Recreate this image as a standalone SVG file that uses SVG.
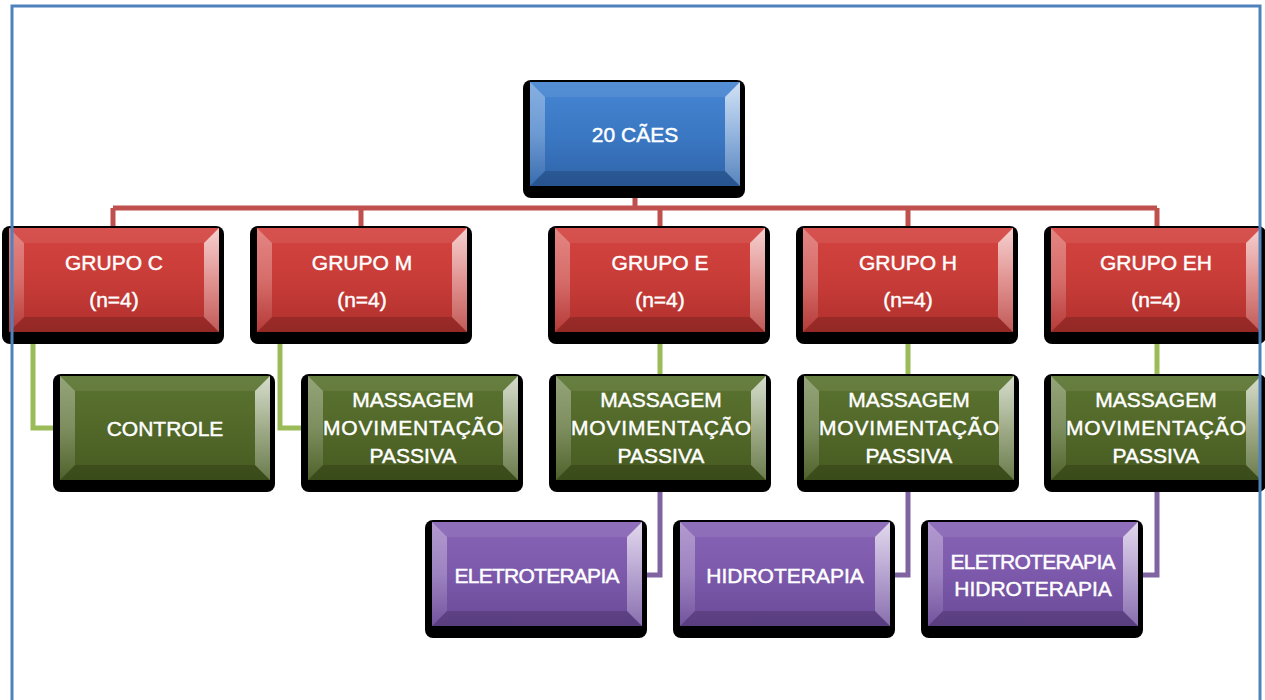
<svg xmlns="http://www.w3.org/2000/svg" width="1265" height="700" viewBox="0 0 1265 700">
<defs>
<linearGradient id="gBlue" x1="0" y1="0" x2="0" y2="1"><stop offset="0" stop-color="#4686d2"/><stop offset="0.5" stop-color="#3b78c4"/><stop offset="1" stop-color="#2f64aa"/></linearGradient>
<linearGradient id="gRed" x1="0" y1="0" x2="0" y2="1"><stop offset="0" stop-color="#d44440"/><stop offset="0.5" stop-color="#c83c38"/><stop offset="1" stop-color="#b0302d"/></linearGradient>
<linearGradient id="gGreen" x1="0" y1="0" x2="0" y2="1"><stop offset="0" stop-color="#5b7431"/><stop offset="0.5" stop-color="#526829"/><stop offset="1" stop-color="#465a20"/></linearGradient>
<linearGradient id="gPurple" x1="0" y1="0" x2="0" y2="1"><stop offset="0" stop-color="#8864b6"/><stop offset="0.5" stop-color="#7c59ab"/><stop offset="1" stop-color="#6a4a98"/></linearGradient>
<linearGradient id="gLeft" x1="0" y1="0" x2="0" y2="1"><stop offset="0" stop-color="#fff" stop-opacity="0.35"/><stop offset="0.5" stop-color="#fff" stop-opacity="0.25"/><stop offset="1" stop-color="#fff" stop-opacity="0.05"/></linearGradient>
<linearGradient id="gRight" x1="0" y1="0" x2="0" y2="1"><stop offset="0" stop-color="#fff" stop-opacity="0.75"/><stop offset="0.5" stop-color="#fff" stop-opacity="0.45"/><stop offset="1" stop-color="#fff" stop-opacity="0.2"/></linearGradient>
<style>
.sh{fill:#000}
.top{fill:#fff;fill-opacity:0.08}
.bot{fill:#000;fill-opacity:0.16}
.lft{fill:url(#gLeft)}
.rgt{fill:url(#gRight)}
.blue{fill:url(#gBlue)}
.red{fill:url(#gRed)}
.green{fill:url(#gGreen)}
.purple{fill:url(#gPurple)}
text{fill:#fff;stroke:#fff;stroke-width:0.45;font-family:"Liberation Sans",Arial,sans-serif;font-size:21px;text-anchor:middle}
.cR{stroke:#c0504d;stroke-width:5;fill:none}
.cG{stroke:#9bbb59;stroke-width:5;fill:none}
.cP{stroke:#8064a2;stroke-width:5;fill:none}
</style>
<g id="bevel">
<polygon class="top" points="0,0 210,0 195,15 15,15"/>
<polygon class="bot" points="0,104 210,104 195,89 15,89"/>
<polygon class="lft" points="0,0 15,15 15,89 0,104"/>
<polygon class="rgt" points="210,0 195,15 195,89 210,104"/>
</g>
</defs>
<g id="connectors">
<path class="cR" d="M635,188 V208 M113,208 H1157 M113,208 V230 M361,208 V230 M660,208 V230 M908,208 V230 M1157,208 V230"/>
<path class="cG" d="M33,332 V428 H62 M280,332 V428 H310 M660,332 V378 M908,332 V378 M1157,332 V378"/>
<path class="cP" d="M660,478 V575 H640 M908,478 V575 H888 M1157,478 V575 H1133"/>
</g>
<g id="n-root" transform="translate(530,82)"><rect class="sh" x="-7" y="-2" width="222" height="118" rx="8"/><rect class="blue" width="210" height="104"/><use href="#bevel"/><text x="105" y="60">20 CÃES</text></g>
<g id="n-grupo-c" transform="translate(9,228)"><rect class="sh" x="-7" y="-2" width="222" height="118" rx="8"/><rect class="red" width="210" height="104"/><use href="#bevel"/><text x="105" y="42">GRUPO C</text><text x="105" y="79">(n=4)</text></g>
<g id="n-grupo-m" transform="translate(257,228)"><rect class="sh" x="-7" y="-2" width="222" height="118" rx="8"/><rect class="red" width="210" height="104"/><use href="#bevel"/><text x="105" y="42">GRUPO M</text><text x="105" y="79">(n=4)</text></g>
<g id="n-grupo-e" transform="translate(555,228)"><rect class="sh" x="-7" y="-2" width="222" height="118" rx="8"/><rect class="red" width="210" height="104"/><use href="#bevel"/><text x="105" y="42">GRUPO E</text><text x="105" y="79">(n=4)</text></g>
<g id="n-grupo-h" transform="translate(803,228)"><rect class="sh" x="-7" y="-2" width="222" height="118" rx="8"/><rect class="red" width="210" height="104"/><use href="#bevel"/><text x="105" y="42">GRUPO H</text><text x="105" y="79">(n=4)</text></g>
<g id="n-grupo-eh" transform="translate(1051,228)"><rect class="sh" x="-7" y="-2" width="222" height="118" rx="8"/><rect class="red" width="210" height="104"/><use href="#bevel"/><text x="105" y="42">GRUPO EH</text><text x="105" y="79">(n=4)</text></g>
<g id="n-controle" transform="translate(60,376)"><rect class="sh" x="-7" y="-2" width="222" height="118" rx="8"/><rect class="green" width="210" height="104"/><use href="#bevel"/><text x="105" y="60">CONTROLE</text></g>
<g id="n-mass-m" transform="translate(308,376)"><rect class="sh" x="-7" y="-2" width="222" height="118" rx="8"/><rect class="green" width="210" height="104"/><use href="#bevel"/><text x="105" y="31">MASSAGEM</text><text x="105" y="59" textLength="180">MOVIMENTAÇÃO</text><text x="105" y="87">PASSIVA</text></g>
<g id="n-mass-e" transform="translate(556,376)"><rect class="sh" x="-7" y="-2" width="222" height="118" rx="8"/><rect class="green" width="210" height="104"/><use href="#bevel"/><text x="105" y="31">MASSAGEM</text><text x="105" y="59" textLength="180">MOVIMENTAÇÃO</text><text x="105" y="87">PASSIVA</text></g>
<g id="n-mass-h" transform="translate(804,376)"><rect class="sh" x="-7" y="-2" width="222" height="118" rx="8"/><rect class="green" width="210" height="104"/><use href="#bevel"/><text x="105" y="31">MASSAGEM</text><text x="105" y="59" textLength="180">MOVIMENTAÇÃO</text><text x="105" y="87">PASSIVA</text></g>
<g id="n-mass-eh" transform="translate(1051,376)"><rect class="sh" x="-7" y="-2" width="222" height="118" rx="8"/><rect class="green" width="210" height="104"/><use href="#bevel"/><text x="105" y="31">MASSAGEM</text><text x="105" y="59" textLength="180">MOVIMENTAÇÃO</text><text x="105" y="87">PASSIVA</text></g>
<g id="n-eletro" transform="translate(432,522)"><rect class="sh" x="-7" y="-2" width="222" height="118" rx="8"/><rect class="purple" width="210" height="104"/><use href="#bevel"/><text x="105" y="61" textLength="165">ELETROTERAPIA</text></g>
<g id="n-hidro" transform="translate(680,522)"><rect class="sh" x="-7" y="-2" width="222" height="118" rx="8"/><rect class="purple" width="210" height="104"/><use href="#bevel"/><text x="105" y="61">HIDROTERAPIA</text></g>
<g id="n-eletro-hidro" transform="translate(928,522)"><rect class="sh" x="-7" y="-2" width="222" height="118" rx="8"/><rect class="purple" width="210" height="104"/><use href="#bevel"/><text x="105" y="47" textLength="165">ELETROTERAPIA</text><text x="105" y="74">HIDROTERAPIA</text></g>
<rect id="frame" x="12" y="6" width="1248" height="720" fill="none" stroke="#4f81bd" stroke-width="3"/>
</svg>
